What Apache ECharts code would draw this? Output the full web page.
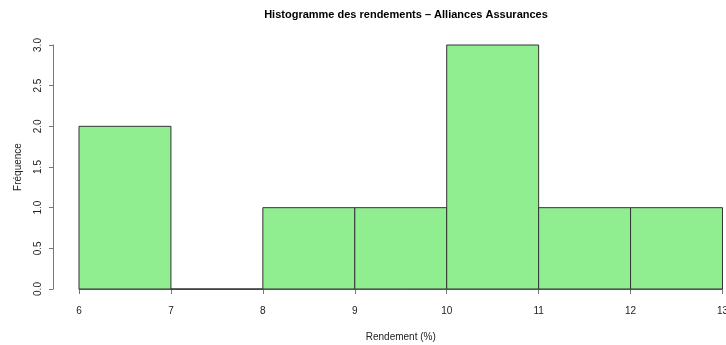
<!DOCTYPE html>
<html>
<head>
<meta charset="utf-8">
<script src="https://cdn.jsdelivr.net/npm/echarts@6/dist/echarts.min.js"></script>
<style>
html,body{margin:0;padding:0;background:#fff;}
#chart{width:726px;height:345px;}
</style>
</head>
<body>
<div id="chart"></div>
<script>
// Histogram bins (class boundaries in %) and counts
const binStarts = [6, 7, 8, 9, 10, 11, 12];
const binEnds = [7, 8, 9, 10, 11, 12, 13];
const counts = [2, 0, 1, 1, 3, 1, 1];
const xTicks = [6, 7, 8, 9, 10, 11, 12, 13];
const yTicks = [0, 0.5, 1, 1.5, 2, 2.5, 3];

const bins = binStarts.map((s, i) => [s, binEnds[i], counts[i]]);

const chart = echarts.init(document.getElementById('chart'));
const font = 'Liberation Sans, Arial, sans-serif';

chart.setOption({
  animation: false,
  backgroundColor: '#ffffff',
  title: {
    text: 'Histogramme des rendements \u2013 Alliances Assurances',
    left: 401, top: 4, textAlign: 'center',
    textStyle: { fontFamily: font, fontSize: 11, fontWeight: 'bold', color: '#000' }
  },
  grid: { left: 79, right: 3.5, top: 45, bottom: 56, outerBoundsMode: 'none', containLabel: false },
  xAxis: {
    type: 'value', min: xTicks[0], max: xTicks[xTicks.length - 1], interval: 1,
    offset: 10,
    name: 'Rendement (%)', nameLocation: 'middle', nameGap: 33,
    nameTextStyle: { fontFamily: font, fontSize: 10, color: '#222' },
    axisLine: { show: true, lineStyle: { color: '#777', width: 1 } },
    axisTick: { show: true, length: 5, lineStyle: { color: '#777' } },
    axisLabel: { fontFamily: font, fontSize: 10, color: '#222', margin: 7 },
    splitLine: { show: false }
  },
  yAxis: {
    type: 'value', min: yTicks[0], max: yTicks[yTicks.length - 1], interval: 0.5,
    offset: 26,
    name: 'Fr\u00e9quence', nameLocation: 'middle', nameGap: 30,
    nameTextStyle: { fontFamily: font, fontSize: 10, color: '#222' },
    axisLine: { show: true, lineStyle: { color: '#777', width: 1 } },
    axisTick: { show: true, length: 4, lineStyle: { color: '#777' } },
    axisLabel: {
      fontFamily: font, fontSize: 10, color: '#222', rotate: 90, margin: 10,
      formatter: v => v.toFixed(1)
    },
    splitLine: { show: false }
  },
  series: [{
    type: 'custom',
    data: bins,
    encode: { x: [0, 1], y: 2 },
    renderItem: function (params, api) {
      const p0 = api.coord([api.value(0), api.value(2)]);
      const p1 = api.coord([api.value(1), 0]);
      return {
        type: 'rect',
        shape: { x: p0[0], y: p0[1], width: p1[0] - p0[0], height: p1[1] - p0[1] },
        style: { fill: '#90EE90', stroke: '#333', lineWidth: 1 }
      };
    }
  }]
});
</script>
</body>
</html>
